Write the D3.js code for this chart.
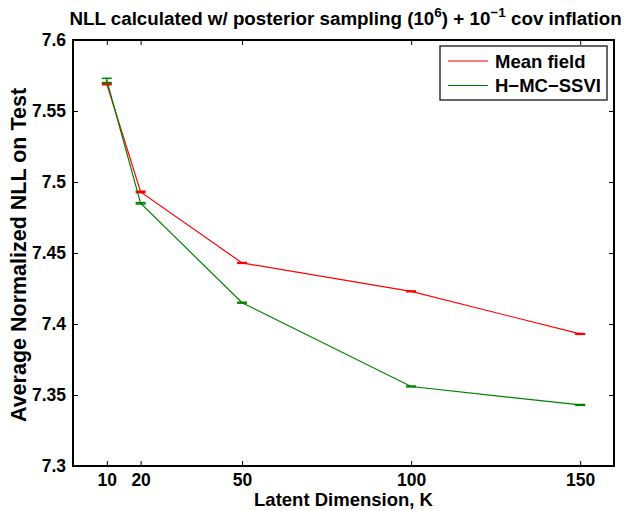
<!DOCTYPE html>
<html>
<head>
<meta charset="utf-8">
<script src="https://cdn.jsdelivr.net/npm/d3@7/dist/d3.min.js"></script>
<style>
  html, body { margin: 0; padding: 0; background: #fff; }
  text { font-family: "Liberation Sans", Arial, Helvetica, sans-serif; font-weight: bold; }
</style>
</head>
<body>
<svg id="chart" width="631" height="511"></svg>
<script>
// ---- data ----
const latentK = [10, 20, 50, 100, 150];
const meanField = [7.5690, 7.4930, 7.4430, 7.4230, 7.3930];
const meanFieldErr = [0.0005, 0.0005, 0.0003, 0.0003, 0.0003];
const hmcSSVI = [7.5715, 7.4850, 7.4150, 7.3560, 7.3430];
const hmcSSVIErr = [0.0015, 0.0005, 0.0003, 0.0003, 0.0003];
const xTicks = [10, 20, 50, 100, 150];
const yTicks = [7.3, 7.35, 7.4, 7.45, 7.5, 7.55, 7.6];
const seriesNames = ["Mean field", "H\u2212MC\u2212SSVI"];
const seriesColors = ["#ff0000", "#008000"];

const svg = d3.select("#chart");
const W = 631, H = 511;
const m = { left: 73, right: 614, top: 40, bottom: 466 };

const x = d3.scaleLinear().domain([0, 160]).range([m.left, m.right]);
const y = d3.scaleLinear().domain([7.3, 7.6]).range([m.bottom, m.top]);

svg.append("rect").attr("width", W).attr("height", H).attr("fill", "#fff");

// axes (MATLAB style: inward ticks on all four sides)
const tickLen = 5;
const axBottom = svg.append("g").attr("transform", `translate(0,${m.bottom})`)
  .call(d3.axisBottom(x).tickValues(xTicks).tickSize(-tickLen).tickPadding(7).tickFormat(d3.format("d")));
const axTop = svg.append("g").attr("transform", `translate(0,${m.top})`)
  .call(d3.axisTop(x).tickValues(xTicks).tickSize(-tickLen).tickFormat(""));
const axLeft = svg.append("g").attr("transform", `translate(${m.left},0)`)
  .call(d3.axisLeft(y).tickValues(yTicks).tickSize(-tickLen).tickPadding(7).tickFormat(d => String(+d.toFixed(2))));
const axRight = svg.append("g").attr("transform", `translate(${m.right},0)`)
  .call(d3.axisRight(y).tickValues(yTicks).tickSize(-tickLen).tickFormat(""));

[axBottom, axTop, axLeft, axRight].forEach(g => {
  g.select(".domain").remove();
  g.selectAll(".tick line").attr("stroke", "#000").attr("stroke-width", 1);
  g.selectAll(".tick text").attr("fill", "#000").attr("font-size", 17.5)
    .style("font-family", '"Liberation Sans", Arial, sans-serif').style("font-weight", "bold");
});
axBottom.selectAll(".tick text").attr("dy", "0.72em");

// box
svg.append("rect")
  .attr("x", m.left).attr("y", m.top)
  .attr("width", m.right - m.left).attr("height", m.bottom - m.top)
  .attr("fill", "none").attr("stroke", "#000").attr("stroke-width", 2);

// series
const series = [
  { name: seriesNames[0], color: seriesColors[0], vals: meanField, err: meanFieldErr },
  { name: seriesNames[1], color: seriesColors[1], vals: hmcSSVI, err: hmcSSVIErr }
];
const line = d3.line().x(d => x(d.k)).y(d => y(d.v));
const capHalf = 5;

series.forEach(s => {
  const pts = latentK.map((k, i) => ({ k, v: s.vals[i], e: s.err[i] }));
  const g = svg.append("g");
  g.append("path").datum(pts).attr("d", line)
    .attr("fill", "none").attr("stroke", s.color).attr("stroke-width", 1.2);
  const eb = g.selectAll(".eb").data(pts).enter().append("g");
  eb.append("line")
    .attr("x1", d => x(d.k)).attr("x2", d => x(d.k))
    .attr("y1", d => y(d.v - d.e)).attr("y2", d => y(d.v + d.e))
    .attr("stroke", s.color).attr("stroke-width", 1.2);
  eb.append("line")
    .attr("x1", d => x(d.k) - capHalf).attr("x2", d => x(d.k) + capHalf)
    .attr("y1", d => y(d.v + d.e)).attr("y2", d => y(d.v + d.e))
    .attr("stroke", s.color).attr("stroke-width", 1.5);
  eb.append("line")
    .attr("x1", d => x(d.k) - capHalf).attr("x2", d => x(d.k) + capHalf)
    .attr("y1", d => y(d.v - d.e)).attr("y2", d => y(d.v - d.e))
    .attr("stroke", s.color).attr("stroke-width", 1.5);
});

// legend
const lg = svg.append("g");
lg.append("rect").attr("x", 440).attr("y", 46).attr("width", 167).attr("height", 54)
  .attr("fill", "#fff").attr("stroke", "#000").attr("stroke-width", 1.2);
series.forEach((s, i) => {
  const ly = 61 + i * 24.5;
  lg.append("line").attr("x1", 448).attr("x2", 488).attr("y1", ly).attr("y2", ly)
    .attr("stroke", s.color).attr("stroke-width", 1.2);
  lg.append("text").attr("x", 495).attr("y", ly).attr("dy", "0.36em")
    .attr("font-size", 18.5).attr("fill", "#000").text(s.name);
});

// title with superscripts
const title = svg.append("text").attr("x", (m.left + m.right) / 2 + 2).attr("y", 25)
  .attr("text-anchor", "middle").attr("font-size", 18.8).attr("fill", "#000");
title.append("tspan").text("NLL calculated w/ posterior sampling (10");
title.append("tspan").attr("dy", -8).attr("font-size", 13.5).text("6");
title.append("tspan").attr("dy", 8).text(") + 10");
title.append("tspan").attr("dy", -8).attr("font-size", 13.5).text("\u22121");
title.append("tspan").attr("dy", 8).text(" cov inflation");

// axis labels
svg.append("text").attr("x", (m.left + m.right) / 2).attr("y", 506)
  .attr("text-anchor", "middle").attr("font-size", 18.5).attr("fill", "#000")
  .text("Latent Dimension, K");
svg.append("text").attr("transform", `translate(26,255) rotate(-90)`)
  .attr("text-anchor", "middle").attr("font-size", 21.5).attr("fill", "#000")
  .text("Average Normalized NLL on Test");
</script>
</body>
</html>
